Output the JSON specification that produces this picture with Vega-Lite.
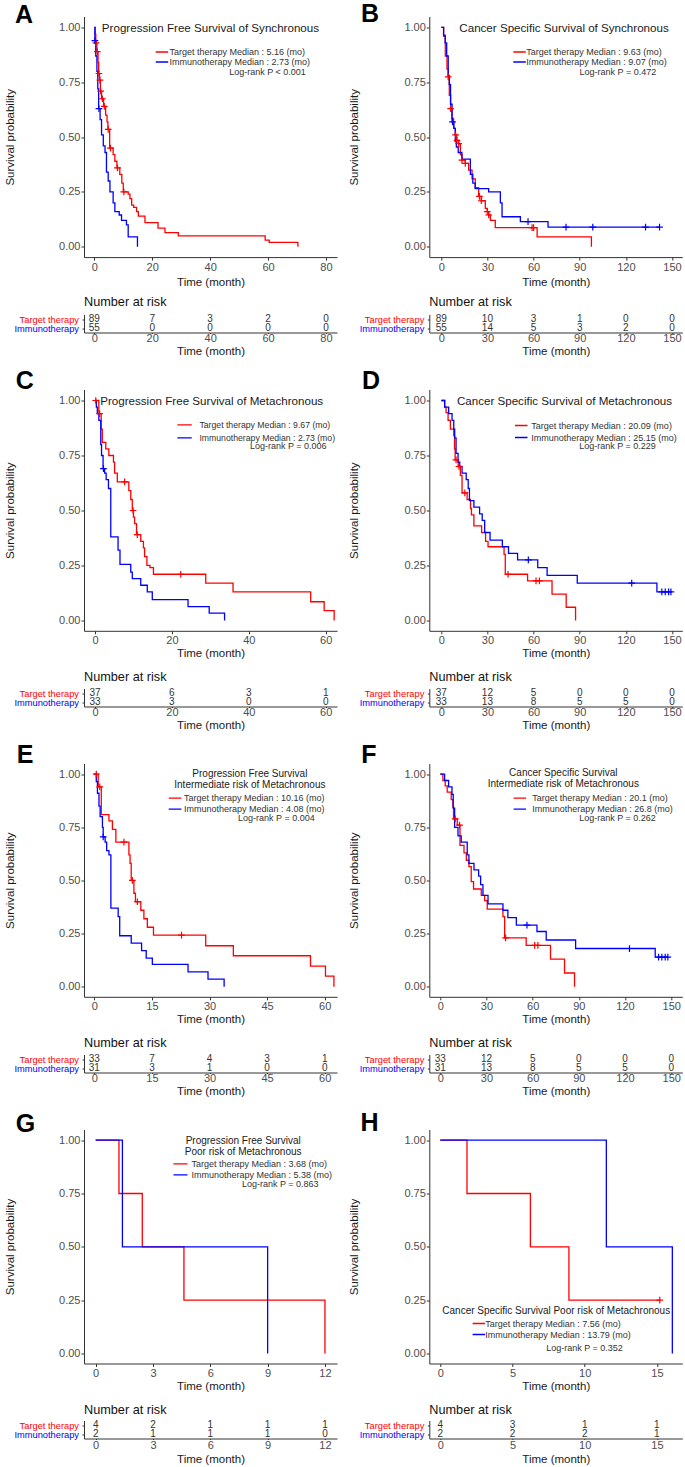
{
"$schema":"https://vega.github.io/schema/vega-lite/v6.json",
"padding":{"left":4,"top":1.5,"right":0,"bottom":0},
"config":{"font":"Liberation Sans","view":{"stroke":null},
"axis":{"grid":false,"domainColor":"#333333","domainWidth":1,"tickColor":"#333333","tickWidth":1,"tickSize":3,"labelColor":"#4D4D4D","labelFontSize":11,"labelFont":"Liberation Sans","titleFont":"Liberation Sans","titleFontSize":11.5,"titleFontWeight":"normal","titleColor":"#1a1a1a","labelPadding":1},
"legend":{"labelFont":"Liberation Sans","labelFontSize":9,"labelColor":"#333333","labelLimit":300,"orient":"none","padding":0,"symbolSize":25,"symbolStrokeWidth":1.3,"title":null,"rowPadding":0}},
"columns":2,"bounds":"flush","align":"each","spacing":{"row":57,"column":92.3},
"resolve":{"scale":{"color":"independent"},"legend":{"color":"independent"}},
"datasets":{
"km":[
{"panel":"A","group":"Target therapy","t":0,"s":1},{"panel":"A","group":"Target therapy","t":0.3,"s":0.97},{"panel":"A","group":"Target therapy","t":0.5,"s":0.93},{"panel":"A","group":"Target therapy","t":0.9,"s":0.89},{"panel":"A","group":"Target therapy","t":1.3,"s":0.84},{"panel":"A","group":"Target therapy","t":1.5,"s":0.79},{"panel":"A","group":"Target therapy","t":1.8,"s":0.76},{"panel":"A","group":"Target therapy","t":2.1,"s":0.71},{"panel":"A","group":"Target therapy","t":2.5,"s":0.675},{"panel":"A","group":"Target therapy","t":3.2,"s":0.64},{"panel":"A","group":"Target therapy","t":3.9,"s":0.6},{"panel":"A","group":"Target therapy","t":4.4,"s":0.57},{"panel":"A","group":"Target therapy","t":4.7,"s":0.535},{"panel":"A","group":"Target therapy","t":5.3,"s":0.45},{"panel":"A","group":"Target therapy","t":6.5,"s":0.42},{"panel":"A","group":"Target therapy","t":7.1,"s":0.39},{"panel":"A","group":"Target therapy","t":7.8,"s":0.36},{"panel":"A","group":"Target therapy","t":8.8,"s":0.33},{"panel":"A","group":"Target therapy","t":9.5,"s":0.29},{"panel":"A","group":"Target therapy","t":10.0,"s":0.25},{"panel":"A","group":"Target therapy","t":11.7,"s":0.24},{"panel":"A","group":"Target therapy","t":12.3,"s":0.22},{"panel":"A","group":"Target therapy","t":12.9,"s":0.19},{"panel":"A","group":"Target therapy","t":13.6,"s":0.18},{"panel":"A","group":"Target therapy","t":14.6,"s":0.16},{"panel":"A","group":"Target therapy","t":15.2,"s":0.14},{"panel":"A","group":"Target therapy","t":17.5,"s":0.11},{"panel":"A","group":"Target therapy","t":22.0,"s":0.085},{"panel":"A","group":"Target therapy","t":24.4,"s":0.065},{"panel":"A","group":"Target therapy","t":29.0,"s":0.05},{"panel":"A","group":"Target therapy","t":59.0,"s":0.03},{"panel":"A","group":"Target therapy","t":60.4,"s":0.02},{"panel":"A","group":"Target therapy","t":70.3,"s":0},
{"panel":"A","group":"Immunotherapy","t":0,"s":1},{"panel":"A","group":"Immunotherapy","t":0.2,"s":0.94},{"panel":"A","group":"Immunotherapy","t":0.5,"s":0.87},{"panel":"A","group":"Immunotherapy","t":0.9,"s":0.8},{"panel":"A","group":"Immunotherapy","t":1.2,"s":0.72},{"panel":"A","group":"Immunotherapy","t":1.5,"s":0.63},{"panel":"A","group":"Immunotherapy","t":2.0,"s":0.58},{"panel":"A","group":"Immunotherapy","t":2.5,"s":0.51},{"panel":"A","group":"Immunotherapy","t":3.1,"s":0.46},{"panel":"A","group":"Immunotherapy","t":3.7,"s":0.43},{"panel":"A","group":"Immunotherapy","t":4.2,"s":0.34},{"panel":"A","group":"Immunotherapy","t":4.8,"s":0.3},{"panel":"A","group":"Immunotherapy","t":5.4,"s":0.25},{"panel":"A","group":"Immunotherapy","t":6.5,"s":0.2},{"panel":"A","group":"Immunotherapy","t":7.1,"s":0.16},{"panel":"A","group":"Immunotherapy","t":8.6,"s":0.145},{"panel":"A","group":"Immunotherapy","t":9.4,"s":0.12},{"panel":"A","group":"Immunotherapy","t":11.1,"s":0.1},{"panel":"A","group":"Immunotherapy","t":11.7,"s":0.045},{"panel":"A","group":"Immunotherapy","t":14.9,"s":0},
{"panel":"B","group":"Target therapy","t":0,"s":1},{"panel":"B","group":"Target therapy","t":1.5,"s":0.96},{"panel":"B","group":"Target therapy","t":2.6,"s":0.87},{"panel":"B","group":"Target therapy","t":3.7,"s":0.81},{"panel":"B","group":"Target therapy","t":4.5,"s":0.775},{"panel":"B","group":"Target therapy","t":5.2,"s":0.69},{"panel":"B","group":"Target therapy","t":6.1,"s":0.63},{"panel":"B","group":"Target therapy","t":6.9,"s":0.585},{"panel":"B","group":"Target therapy","t":8.0,"s":0.54},{"panel":"B","group":"Target therapy","t":9.1,"s":0.51},{"panel":"B","group":"Target therapy","t":10.0,"s":0.485},{"panel":"B","group":"Target therapy","t":11.3,"s":0.47},{"panel":"B","group":"Target therapy","t":12.4,"s":0.42},{"panel":"B","group":"Target therapy","t":13.4,"s":0.395},{"panel":"B","group":"Target therapy","t":15.6,"s":0.38},{"panel":"B","group":"Target therapy","t":17.8,"s":0.35},{"panel":"B","group":"Target therapy","t":20,"s":0.31},{"panel":"B","group":"Target therapy","t":22.1,"s":0.27},{"panel":"B","group":"Target therapy","t":24.3,"s":0.23},{"panel":"B","group":"Target therapy","t":26,"s":0.21},{"panel":"B","group":"Target therapy","t":28.6,"s":0.175},{"panel":"B","group":"Target therapy","t":29.9,"s":0.16},{"panel":"B","group":"Target therapy","t":30.8,"s":0.145},{"panel":"B","group":"Target therapy","t":31.9,"s":0.12},{"panel":"B","group":"Target therapy","t":35.1,"s":0.087},{"panel":"B","group":"Target therapy","t":62.3,"s":0.045},{"panel":"B","group":"Target therapy","t":97.6,"s":0},
{"panel":"B","group":"Immunotherapy","t":0,"s":1},{"panel":"B","group":"Immunotherapy","t":1.5,"s":0.965},{"panel":"B","group":"Immunotherapy","t":2.5,"s":0.93},{"panel":"B","group":"Immunotherapy","t":3.5,"s":0.87},{"panel":"B","group":"Immunotherapy","t":4.5,"s":0.78},{"panel":"B","group":"Immunotherapy","t":5.2,"s":0.74},{"panel":"B","group":"Immunotherapy","t":6,"s":0.65},{"panel":"B","group":"Immunotherapy","t":7,"s":0.57},{"panel":"B","group":"Immunotherapy","t":8.2,"s":0.54},{"panel":"B","group":"Immunotherapy","t":9.1,"s":0.48},{"panel":"B","group":"Immunotherapy","t":9.8,"s":0.455},{"panel":"B","group":"Immunotherapy","t":11,"s":0.43},{"panel":"B","group":"Immunotherapy","t":13.4,"s":0.4},{"panel":"B","group":"Immunotherapy","t":18.9,"s":0.33},{"panel":"B","group":"Immunotherapy","t":20.5,"s":0.29},{"panel":"B","group":"Immunotherapy","t":22,"s":0.265},{"panel":"B","group":"Immunotherapy","t":30.8,"s":0.25},{"panel":"B","group":"Immunotherapy","t":38.4,"s":0.2},{"panel":"B","group":"Immunotherapy","t":39.5,"s":0.137},{"panel":"B","group":"Immunotherapy","t":51.4,"s":0.115},{"panel":"B","group":"Immunotherapy","t":69.4,"s":0.09},{"panel":"B","group":"Immunotherapy","t":141.9,"s":0.09},
{"panel":"C","group":"Target therapy","t":0,"s":1},{"panel":"C","group":"Target therapy","t":1.0,"s":0.94},{"panel":"C","group":"Target therapy","t":1.6,"s":0.87},{"panel":"C","group":"Target therapy","t":1.9,"s":0.81},{"panel":"C","group":"Target therapy","t":2.8,"s":0.78},{"panel":"C","group":"Target therapy","t":3.6,"s":0.75},{"panel":"C","group":"Target therapy","t":4.8,"s":0.72},{"panel":"C","group":"Target therapy","t":5.1,"s":0.67},{"panel":"C","group":"Target therapy","t":5.8,"s":0.63},{"panel":"C","group":"Target therapy","t":8.8,"s":0.59},{"panel":"C","group":"Target therapy","t":9.3,"s":0.55},{"panel":"C","group":"Target therapy","t":9.7,"s":0.5},{"panel":"C","group":"Target therapy","t":10.0,"s":0.47},{"panel":"C","group":"Target therapy","t":10.3,"s":0.44},{"panel":"C","group":"Target therapy","t":10.8,"s":0.39},{"panel":"C","group":"Target therapy","t":11.9,"s":0.36},{"panel":"C","group":"Target therapy","t":12.6,"s":0.33},{"panel":"C","group":"Target therapy","t":12.9,"s":0.29},{"panel":"C","group":"Target therapy","t":13.5,"s":0.25},{"panel":"C","group":"Target therapy","t":14.3,"s":0.24},{"panel":"C","group":"Target therapy","t":15.2,"s":0.21},{"panel":"C","group":"Target therapy","t":28.8,"s":0.17},{"panel":"C","group":"Target therapy","t":35.9,"s":0.13},{"panel":"C","group":"Target therapy","t":56.1,"s":0.085},{"panel":"C","group":"Target therapy","t":59.6,"s":0.045},{"panel":"C","group":"Target therapy","t":62.2,"s":0},
{"panel":"C","group":"Immunotherapy","t":0,"s":1},{"panel":"C","group":"Immunotherapy","t":0.35,"s":0.97},{"panel":"C","group":"Immunotherapy","t":0.6,"s":0.94},{"panel":"C","group":"Immunotherapy","t":1.0,"s":0.91},{"panel":"C","group":"Immunotherapy","t":1.5,"s":0.8},{"panel":"C","group":"Immunotherapy","t":1.7,"s":0.75},{"panel":"C","group":"Immunotherapy","t":2.1,"s":0.69},{"panel":"C","group":"Immunotherapy","t":2.5,"s":0.67},{"panel":"C","group":"Immunotherapy","t":2.9,"s":0.64},{"panel":"C","group":"Immunotherapy","t":3.5,"s":0.6},{"panel":"C","group":"Immunotherapy","t":4.1,"s":0.38},{"panel":"C","group":"Immunotherapy","t":6.0,"s":0.32},{"panel":"C","group":"Immunotherapy","t":6.5,"s":0.255},{"panel":"C","group":"Immunotherapy","t":9.3,"s":0.22},{"panel":"C","group":"Immunotherapy","t":9.7,"s":0.19},{"panel":"C","group":"Immunotherapy","t":11.9,"s":0.16},{"panel":"C","group":"Immunotherapy","t":13.6,"s":0.13},{"panel":"C","group":"Immunotherapy","t":14.9,"s":0.095},{"panel":"C","group":"Immunotherapy","t":24.2,"s":0.063},{"panel":"C","group":"Immunotherapy","t":29.7,"s":0.033},{"panel":"C","group":"Immunotherapy","t":33.7,"s":0},
{"panel":"D","group":"Target therapy","t":0,"s":1},{"panel":"D","group":"Target therapy","t":2.2,"s":0.97},{"panel":"D","group":"Target therapy","t":3.1,"s":0.945},{"panel":"D","group":"Target therapy","t":4.4,"s":0.91},{"panel":"D","group":"Target therapy","t":5.9,"s":0.87},{"panel":"D","group":"Target therapy","t":8.1,"s":0.84},{"panel":"D","group":"Target therapy","t":8.6,"s":0.78},{"panel":"D","group":"Target therapy","t":9.0,"s":0.73},{"panel":"D","group":"Target therapy","t":11.0,"s":0.7},{"panel":"D","group":"Target therapy","t":12.4,"s":0.66},{"panel":"D","group":"Target therapy","t":13.5,"s":0.58},{"panel":"D","group":"Target therapy","t":16.8,"s":0.55},{"panel":"D","group":"Target therapy","t":19,"s":0.51},{"panel":"D","group":"Target therapy","t":19.6,"s":0.48},{"panel":"D","group":"Target therapy","t":21.2,"s":0.43},{"panel":"D","group":"Target therapy","t":26.2,"s":0.4},{"panel":"D","group":"Target therapy","t":28.8,"s":0.36},{"panel":"D","group":"Target therapy","t":30.4,"s":0.335},{"panel":"D","group":"Target therapy","t":40.8,"s":0.3},{"panel":"D","group":"Target therapy","t":41.6,"s":0.21},{"panel":"D","group":"Target therapy","t":56.1,"s":0.18},{"panel":"D","group":"Target therapy","t":72,"s":0.12},{"panel":"D","group":"Target therapy","t":81.2,"s":0.06},{"panel":"D","group":"Target therapy","t":87.3,"s":0},
{"panel":"D","group":"Immunotherapy","t":0,"s":1},{"panel":"D","group":"Immunotherapy","t":2.2,"s":0.97},{"panel":"D","group":"Immunotherapy","t":4.8,"s":0.94},{"panel":"D","group":"Immunotherapy","t":7,"s":0.91},{"panel":"D","group":"Immunotherapy","t":8.1,"s":0.87},{"panel":"D","group":"Immunotherapy","t":8.7,"s":0.83},{"panel":"D","group":"Immunotherapy","t":9.6,"s":0.76},{"panel":"D","group":"Immunotherapy","t":10.9,"s":0.72},{"panel":"D","group":"Immunotherapy","t":12,"s":0.7},{"panel":"D","group":"Immunotherapy","t":13.5,"s":0.67},{"panel":"D","group":"Immunotherapy","t":16.2,"s":0.64},{"panel":"D","group":"Immunotherapy","t":17.5,"s":0.6},{"panel":"D","group":"Immunotherapy","t":18.3,"s":0.545},{"panel":"D","group":"Immunotherapy","t":21.2,"s":0.515},{"panel":"D","group":"Immunotherapy","t":24.9,"s":0.485},{"panel":"D","group":"Immunotherapy","t":26.6,"s":0.455},{"panel":"D","group":"Immunotherapy","t":28.2,"s":0.4},{"panel":"D","group":"Immunotherapy","t":31.7,"s":0.365},{"panel":"D","group":"Immunotherapy","t":39.7,"s":0.335},{"panel":"D","group":"Immunotherapy","t":43.7,"s":0.305},{"panel":"D","group":"Immunotherapy","t":49.6,"s":0.275},{"panel":"D","group":"Immunotherapy","t":62.7,"s":0.24},{"panel":"D","group":"Immunotherapy","t":68.8,"s":0.205},{"panel":"D","group":"Immunotherapy","t":88.4,"s":0.17},{"panel":"D","group":"Immunotherapy","t":140.2,"s":0.13},{"panel":"D","group":"Immunotherapy","t":149.3,"s":0.13},
{"panel":"E","group":"Target therapy","t":0,"s":1},{"panel":"E","group":"Target therapy","t":1.0,"s":0.94},{"panel":"E","group":"Target therapy","t":1.8,"s":0.81},{"panel":"E","group":"Target therapy","t":3.8,"s":0.78},{"panel":"E","group":"Target therapy","t":4.7,"s":0.74},{"panel":"E","group":"Target therapy","t":5.6,"s":0.68},{"panel":"E","group":"Target therapy","t":9.0,"s":0.62},{"panel":"E","group":"Target therapy","t":9.3,"s":0.58},{"panel":"E","group":"Target therapy","t":9.6,"s":0.5},{"panel":"E","group":"Target therapy","t":10.3,"s":0.44},{"panel":"E","group":"Target therapy","t":10.7,"s":0.4},{"panel":"E","group":"Target therapy","t":12.1,"s":0.36},{"panel":"E","group":"Target therapy","t":12.9,"s":0.32},{"panel":"E","group":"Target therapy","t":13.8,"s":0.28},{"panel":"E","group":"Target therapy","t":15.4,"s":0.243},{"panel":"E","group":"Target therapy","t":29,"s":0.193},{"panel":"E","group":"Target therapy","t":36.2,"s":0.146},{"panel":"E","group":"Target therapy","t":56.3,"s":0.097},{"panel":"E","group":"Target therapy","t":60.2,"s":0.05},{"panel":"E","group":"Target therapy","t":62.4,"s":0},
{"panel":"E","group":"Immunotherapy","t":0,"s":1},{"panel":"E","group":"Immunotherapy","t":0.5,"s":0.965},{"panel":"E","group":"Immunotherapy","t":0.8,"s":0.91},{"panel":"E","group":"Immunotherapy","t":1.2,"s":0.85},{"panel":"E","group":"Immunotherapy","t":1.5,"s":0.8},{"panel":"E","group":"Immunotherapy","t":2.1,"s":0.75},{"panel":"E","group":"Immunotherapy","t":2.3,"s":0.705},{"panel":"E","group":"Immunotherapy","t":2.8,"s":0.68},{"panel":"E","group":"Immunotherapy","t":3.2,"s":0.64},{"panel":"E","group":"Immunotherapy","t":3.8,"s":0.62},{"panel":"E","group":"Immunotherapy","t":4.3,"s":0.37},{"panel":"E","group":"Immunotherapy","t":6.2,"s":0.33},{"panel":"E","group":"Immunotherapy","t":6.6,"s":0.24},{"panel":"E","group":"Immunotherapy","t":9.6,"s":0.205},{"panel":"E","group":"Immunotherapy","t":12.3,"s":0.17},{"panel":"E","group":"Immunotherapy","t":13.5,"s":0.135},{"panel":"E","group":"Immunotherapy","t":15.1,"s":0.105},{"panel":"E","group":"Immunotherapy","t":24.4,"s":0.07},{"panel":"E","group":"Immunotherapy","t":29.6,"s":0.036},{"panel":"E","group":"Immunotherapy","t":33.8,"s":0},
{"panel":"F","group":"Target therapy","t":0,"s":1},{"panel":"F","group":"Target therapy","t":1.7,"s":0.97},{"panel":"F","group":"Target therapy","t":3.2,"s":0.945},{"panel":"F","group":"Target therapy","t":4.5,"s":0.915},{"panel":"F","group":"Target therapy","t":7.1,"s":0.88},{"panel":"F","group":"Target therapy","t":8.2,"s":0.845},{"panel":"F","group":"Target therapy","t":8.6,"s":0.79},{"panel":"F","group":"Target therapy","t":11,"s":0.76},{"panel":"F","group":"Target therapy","t":12.8,"s":0.665},{"panel":"F","group":"Target therapy","t":15.4,"s":0.63},{"panel":"F","group":"Target therapy","t":16.9,"s":0.595},{"panel":"F","group":"Target therapy","t":18.6,"s":0.565},{"panel":"F","group":"Target therapy","t":20.1,"s":0.495},{"panel":"F","group":"Target therapy","t":21.6,"s":0.46},{"panel":"F","group":"Target therapy","t":26.6,"s":0.43},{"panel":"F","group":"Target therapy","t":28.8,"s":0.405},{"panel":"F","group":"Target therapy","t":30.5,"s":0.365},{"panel":"F","group":"Target therapy","t":40.7,"s":0.33},{"panel":"F","group":"Target therapy","t":41.8,"s":0.23},{"panel":"F","group":"Target therapy","t":55.8,"s":0.195},{"panel":"F","group":"Target therapy","t":71.6,"s":0.13},{"panel":"F","group":"Target therapy","t":80.7,"s":0.065},{"panel":"F","group":"Target therapy","t":87.2,"s":0},
{"panel":"F","group":"Immunotherapy","t":0,"s":1},{"panel":"F","group":"Immunotherapy","t":2.8,"s":0.97},{"panel":"F","group":"Immunotherapy","t":5.4,"s":0.94},{"panel":"F","group":"Immunotherapy","t":7.6,"s":0.905},{"panel":"F","group":"Immunotherapy","t":8.4,"s":0.84},{"panel":"F","group":"Immunotherapy","t":9.3,"s":0.75},{"panel":"F","group":"Immunotherapy","t":11.5,"s":0.71},{"panel":"F","group":"Immunotherapy","t":13.6,"s":0.68},{"panel":"F","group":"Immunotherapy","t":17.5,"s":0.62},{"panel":"F","group":"Immunotherapy","t":18.6,"s":0.58},{"panel":"F","group":"Immunotherapy","t":21.9,"s":0.55},{"panel":"F","group":"Immunotherapy","t":24.9,"s":0.52},{"panel":"F","group":"Immunotherapy","t":26.2,"s":0.48},{"panel":"F","group":"Immunotherapy","t":27.7,"s":0.43},{"panel":"F","group":"Immunotherapy","t":31,"s":0.39},{"panel":"F","group":"Immunotherapy","t":40.7,"s":0.36},{"panel":"F","group":"Immunotherapy","t":43.9,"s":0.325},{"panel":"F","group":"Immunotherapy","t":49.4,"s":0.29},{"panel":"F","group":"Immunotherapy","t":62.8,"s":0.26},{"panel":"F","group":"Immunotherapy","t":68.8,"s":0.22},{"panel":"F","group":"Immunotherapy","t":87.9,"s":0.18},{"panel":"F","group":"Immunotherapy","t":139.6,"s":0.14},{"panel":"F","group":"Immunotherapy","t":147.8,"s":0.14},
{"panel":"G","group":"Target therapy","t":0,"s":1},{"panel":"G","group":"Target therapy","t":1.22,"s":0.75},{"panel":"G","group":"Target therapy","t":2.44,"s":0.5},{"panel":"G","group":"Target therapy","t":4.62,"s":0.25},{"panel":"G","group":"Target therapy","t":12.0,"s":0},
{"panel":"G","group":"Immunotherapy","t":0,"s":1},{"panel":"G","group":"Immunotherapy","t":1.4,"s":0.5},{"panel":"G","group":"Immunotherapy","t":9.0,"s":0},
{"panel":"H","group":"Target therapy","t":0,"s":1},{"panel":"H","group":"Target therapy","t":1.85,"s":0.75},{"panel":"H","group":"Target therapy","t":6.24,"s":0.5},{"panel":"H","group":"Target therapy","t":8.91,"s":0.25},{"panel":"H","group":"Target therapy","t":15.2,"s":0.25},
{"panel":"H","group":"Immunotherapy","t":0,"s":1},{"panel":"H","group":"Immunotherapy","t":11.5,"s":0.5},{"panel":"H","group":"Immunotherapy","t":16.07,"s":0}
],
"cens":[
{"panel":"A","group":"Target therapy","t":0.57,"s":0.93},{"panel":"A","group":"Target therapy","t":1.03,"s":0.89},{"panel":"A","group":"Target therapy","t":1.6,"s":0.79},{"panel":"A","group":"Target therapy","t":1.95,"s":0.76},{"panel":"A","group":"Target therapy","t":2.2,"s":0.71},{"panel":"A","group":"Target therapy","t":2.8,"s":0.675},{"panel":"A","group":"Target therapy","t":3.45,"s":0.64},{"panel":"A","group":"Target therapy","t":4.8,"s":0.535},{"panel":"A","group":"Target therapy","t":5.6,"s":0.45},{"panel":"A","group":"Target therapy","t":8.0,"s":0.36},{"panel":"A","group":"Target therapy","t":10.2,"s":0.25},
{"panel":"A","group":"Immunotherapy","t":0.2,"s":0.94},{"panel":"A","group":"Immunotherapy","t":1.6,"s":0.63},
{"panel":"B","group":"Target therapy","t":4.5,"s":0.775},{"panel":"B","group":"Target therapy","t":6.1,"s":0.63},{"panel":"B","group":"Target therapy","t":9.3,"s":0.51},{"panel":"B","group":"Target therapy","t":10.2,"s":0.485},{"panel":"B","group":"Target therapy","t":11.3,"s":0.47},{"panel":"B","group":"Target therapy","t":13.4,"s":0.395},{"panel":"B","group":"Target therapy","t":15.6,"s":0.38},{"panel":"B","group":"Target therapy","t":24.8,"s":0.23},{"panel":"B","group":"Target therapy","t":26,"s":0.21},{"panel":"B","group":"Target therapy","t":29.9,"s":0.16},{"panel":"B","group":"Target therapy","t":30.8,"s":0.145},{"panel":"B","group":"Target therapy","t":59,"s":0.087},{"panel":"B","group":"Target therapy","t":60,"s":0.087},
{"panel":"B","group":"Immunotherapy","t":7.3,"s":0.57},{"panel":"B","group":"Immunotherapy","t":56.4,"s":0.115},{"panel":"B","group":"Immunotherapy","t":81.1,"s":0.09},{"panel":"B","group":"Immunotherapy","t":98.5,"s":0.09},{"panel":"B","group":"Immunotherapy","t":132.8,"s":0.09},{"panel":"B","group":"Immunotherapy","t":141.9,"s":0.09},
{"panel":"C","group":"Target therapy","t":0.2,"s":1},{"panel":"C","group":"Target therapy","t":1.2,"s":0.94},{"panel":"C","group":"Target therapy","t":7.7,"s":0.63},{"panel":"C","group":"Target therapy","t":9.9,"s":0.5},{"panel":"C","group":"Target therapy","t":11.0,"s":0.39},{"panel":"C","group":"Target therapy","t":22.3,"s":0.21},
{"panel":"C","group":"Immunotherapy","t":2.2,"s":0.69},
{"panel":"D","group":"Target therapy","t":9.6,"s":0.73},{"panel":"D","group":"Target therapy","t":11.5,"s":0.7},{"panel":"D","group":"Target therapy","t":15.3,"s":0.58},{"panel":"D","group":"Target therapy","t":43.4,"s":0.21},{"panel":"D","group":"Target therapy","t":61.6,"s":0.18},{"panel":"D","group":"Target therapy","t":63.8,"s":0.18},
{"panel":"D","group":"Immunotherapy","t":56.6,"s":0.275},{"panel":"D","group":"Immunotherapy","t":123.8,"s":0.17},{"panel":"D","group":"Immunotherapy","t":143.4,"s":0.13},{"panel":"D","group":"Immunotherapy","t":145.6,"s":0.13},{"panel":"D","group":"Immunotherapy","t":147.8,"s":0.13},{"panel":"D","group":"Immunotherapy","t":149.3,"s":0.13},
{"panel":"E","group":"Target therapy","t":0.5,"s":1},{"panel":"E","group":"Target therapy","t":1.4,"s":0.94},{"panel":"E","group":"Target therapy","t":7.7,"s":0.68},{"panel":"E","group":"Target therapy","t":9.9,"s":0.5},{"panel":"E","group":"Target therapy","t":11.2,"s":0.4},{"panel":"E","group":"Target therapy","t":22.7,"s":0.243},
{"panel":"E","group":"Immunotherapy","t":2.3,"s":0.705},
{"panel":"F","group":"Target therapy","t":9.7,"s":0.79},{"panel":"F","group":"Target therapy","t":12.5,"s":0.76},{"panel":"F","group":"Target therapy","t":42.4,"s":0.23},{"panel":"F","group":"Target therapy","t":61.3,"s":0.195},{"panel":"F","group":"Target therapy","t":63.4,"s":0.195},
{"panel":"F","group":"Immunotherapy","t":56.3,"s":0.29},{"panel":"F","group":"Immunotherapy","t":122.9,"s":0.18},{"panel":"F","group":"Immunotherapy","t":141.8,"s":0.14},{"panel":"F","group":"Immunotherapy","t":143.9,"s":0.14},{"panel":"F","group":"Immunotherapy","t":146.1,"s":0.14},{"panel":"F","group":"Immunotherapy","t":147.8,"s":0.14},
{"panel":"H","group":"Target therapy","t":15.2,"s":0.25}
],
"risk":[
{"panel":"A","group":"Target therapy","t":0,"n":89},{"panel":"A","group":"Target therapy","t":20,"n":7},{"panel":"A","group":"Target therapy","t":40,"n":3},{"panel":"A","group":"Target therapy","t":60,"n":2},{"panel":"A","group":"Target therapy","t":80,"n":0},
{"panel":"A","group":"Immunotherapy","t":0,"n":55},{"panel":"A","group":"Immunotherapy","t":20,"n":0},{"panel":"A","group":"Immunotherapy","t":40,"n":0},{"panel":"A","group":"Immunotherapy","t":60,"n":0},{"panel":"A","group":"Immunotherapy","t":80,"n":0},
{"panel":"B","group":"Target therapy","t":0,"n":89},{"panel":"B","group":"Target therapy","t":30,"n":10},{"panel":"B","group":"Target therapy","t":60,"n":3},{"panel":"B","group":"Target therapy","t":90,"n":1},{"panel":"B","group":"Target therapy","t":120,"n":0},{"panel":"B","group":"Target therapy","t":150,"n":0},
{"panel":"B","group":"Immunotherapy","t":0,"n":55},{"panel":"B","group":"Immunotherapy","t":30,"n":14},{"panel":"B","group":"Immunotherapy","t":60,"n":5},{"panel":"B","group":"Immunotherapy","t":90,"n":3},{"panel":"B","group":"Immunotherapy","t":120,"n":2},{"panel":"B","group":"Immunotherapy","t":150,"n":0},
{"panel":"C","group":"Target therapy","t":0,"n":37},{"panel":"C","group":"Target therapy","t":20,"n":6},{"panel":"C","group":"Target therapy","t":40,"n":3},{"panel":"C","group":"Target therapy","t":60,"n":1},
{"panel":"C","group":"Immunotherapy","t":0,"n":33},{"panel":"C","group":"Immunotherapy","t":20,"n":3},{"panel":"C","group":"Immunotherapy","t":40,"n":0},{"panel":"C","group":"Immunotherapy","t":60,"n":0},
{"panel":"D","group":"Target therapy","t":0,"n":37},{"panel":"D","group":"Target therapy","t":30,"n":12},{"panel":"D","group":"Target therapy","t":60,"n":5},{"panel":"D","group":"Target therapy","t":90,"n":0},{"panel":"D","group":"Target therapy","t":120,"n":0},{"panel":"D","group":"Target therapy","t":150,"n":0},
{"panel":"D","group":"Immunotherapy","t":0,"n":33},{"panel":"D","group":"Immunotherapy","t":30,"n":13},{"panel":"D","group":"Immunotherapy","t":60,"n":8},{"panel":"D","group":"Immunotherapy","t":90,"n":5},{"panel":"D","group":"Immunotherapy","t":120,"n":5},{"panel":"D","group":"Immunotherapy","t":150,"n":0},
{"panel":"E","group":"Target therapy","t":0,"n":33},{"panel":"E","group":"Target therapy","t":15,"n":7},{"panel":"E","group":"Target therapy","t":30,"n":4},{"panel":"E","group":"Target therapy","t":45,"n":3},{"panel":"E","group":"Target therapy","t":60,"n":1},
{"panel":"E","group":"Immunotherapy","t":0,"n":31},{"panel":"E","group":"Immunotherapy","t":15,"n":3},{"panel":"E","group":"Immunotherapy","t":30,"n":1},{"panel":"E","group":"Immunotherapy","t":45,"n":0},{"panel":"E","group":"Immunotherapy","t":60,"n":0},
{"panel":"F","group":"Target therapy","t":0,"n":33},{"panel":"F","group":"Target therapy","t":30,"n":12},{"panel":"F","group":"Target therapy","t":60,"n":5},{"panel":"F","group":"Target therapy","t":90,"n":0},{"panel":"F","group":"Target therapy","t":120,"n":0},{"panel":"F","group":"Target therapy","t":150,"n":0},
{"panel":"F","group":"Immunotherapy","t":0,"n":31},{"panel":"F","group":"Immunotherapy","t":30,"n":13},{"panel":"F","group":"Immunotherapy","t":60,"n":8},{"panel":"F","group":"Immunotherapy","t":90,"n":5},{"panel":"F","group":"Immunotherapy","t":120,"n":5},{"panel":"F","group":"Immunotherapy","t":150,"n":0},
{"panel":"G","group":"Target therapy","t":0,"n":4},{"panel":"G","group":"Target therapy","t":3,"n":2},{"panel":"G","group":"Target therapy","t":6,"n":1},{"panel":"G","group":"Target therapy","t":9,"n":1},{"panel":"G","group":"Target therapy","t":12,"n":1},
{"panel":"G","group":"Immunotherapy","t":0,"n":2},{"panel":"G","group":"Immunotherapy","t":3,"n":1},{"panel":"G","group":"Immunotherapy","t":6,"n":1},{"panel":"G","group":"Immunotherapy","t":9,"n":1},{"panel":"G","group":"Immunotherapy","t":12,"n":0},
{"panel":"H","group":"Target therapy","t":0,"n":4},{"panel":"H","group":"Target therapy","t":5,"n":3},{"panel":"H","group":"Target therapy","t":10,"n":1},{"panel":"H","group":"Target therapy","t":15,"n":1},
{"panel":"H","group":"Immunotherapy","t":0,"n":2},{"panel":"H","group":"Immunotherapy","t":5,"n":2},{"panel":"H","group":"Immunotherapy","t":10,"n":2},{"panel":"H","group":"Immunotherapy","t":15,"n":1}
]},
"concat":[
{"width":253,"height":240.6,
"title":{"text":"A","anchor":"start","frame":"group","orient":"top","offset":0,"dx":-69,"dy":31,"baseline":"alphabetic","fontSize":25,"fontWeight":"bold","color":"#000000","font":"Liberation Sans"},
"layer":[
{"data":{"name":"km"},"transform":[{"filter":"datum.panel == 'A'"}],"mark":{"type":"line","interpolate":"step-after","strokeWidth":1.3},
"encoding":{"x":{"field":"t","type":"quantitative","scale":{"domain":[-3.56,83.8],"nice":false,"zero":false},"axis":{"values":[0,20,40,60,80],"title":"Time (month)","titlePadding":4.5}},
"y":{"field":"s","type":"quantitative","scale":{"domain":[-0.047,1.05],"nice":false,"zero":false},"axis":{"values":[0,0.25,0.5,0.75,1],"format":".2f","title":"Survival probability","titlePadding":42.8}},
"color":{"field":"group","type":"nominal","scale":{"domain":["Target therapy","Immunotherapy"],"range":["#FF0000","#0000FF"]},"legend":{"legendX":71.7,"legendY":30.5,"clipHeight":10,"labelOffset":4.7,"symbolType":"M-3.2,0H3.2","labelExpr":"datum.label == 'Target therapy' ? 'Target therapy  Median : 5.16 (mo)' : 'Immunotherapy Median : 2.73 (mo)'"}}}},
{"data":{"name":"cens"},"transform":[{"filter":"datum.panel == 'A'"}],"mark":{"type":"point","shape":"M-1,0H1M0,-1V1","size":45,"filled":false,"strokeWidth":1.2,"opacity":1},"encoding":{"x":{"field":"t","type":"quantitative"},"y":{"field":"s","type":"quantitative"},"color":{"field":"group","type":"nominal"}}},
{"data":{"values":[{}]},"mark":{"type":"text","fontSize":11.6,"color":"#1a1a1a","align":"center","baseline":"middle"},"encoding":{"x":{"datum":40.1},"y":{"datum":0.992},"text":{"value":"Progression Free Survival of Synchronous"}}},
{"data":{"values":[{}]},"mark":{"type":"text","fontSize":9,"color":"#333333","align":"center","baseline":"middle"},"encoding":{"x":{"datum":59.8},"y":{"datum":0.799},"text":{"value":"Log-rank P  < 0.001"}}}
]},
{"width":253,"height":240.6,
"title":{"text":"B","anchor":"start","frame":"group","orient":"top","offset":0,"dx":-68.3,"dy":30,"baseline":"alphabetic","fontSize":25,"fontWeight":"bold","color":"#000000","font":"Liberation Sans"},
"layer":[
{"data":{"name":"km"},"transform":[{"filter":"datum.panel == 'B'"}],"mark":{"type":"line","interpolate":"step-after","strokeWidth":1.3},
"encoding":{"x":{"field":"t","type":"quantitative","scale":{"domain":[-7.8,156.7],"nice":false,"zero":false},"axis":{"values":[0,30,60,90,120,150],"title":"Time (month)","titlePadding":4.5}},
"y":{"field":"s","type":"quantitative","scale":{"domain":[-0.047,1.05],"nice":false,"zero":false},"axis":{"values":[0,0.25,0.5,0.75,1],"format":".2f","title":"Survival probability","titlePadding":44.3}},
"color":{"field":"group","type":"nominal","scale":{"domain":["Target therapy","Immunotherapy"],"range":["#FF0000","#0000FF"]},"legend":{"legendX":84,"legendY":30.5,"clipHeight":10,"labelOffset":4,"symbolType":"M-3.2,0H3.2","labelExpr":"datum.label == 'Target therapy' ? 'Target therapy  Median : 9.63 (mo)' : 'Immunotherapy Median : 9.07 (mo)'"}}}},
{"data":{"name":"cens"},"transform":[{"filter":"datum.panel == 'B'"}],"mark":{"type":"point","shape":"M-1,0H1M0,-1V1","size":45,"filled":false,"strokeWidth":1.2,"opacity":1},"encoding":{"x":{"field":"t","type":"quantitative"},"y":{"field":"s","type":"quantitative"},"color":{"field":"group","type":"nominal"}}},
{"data":{"values":[{}]},"mark":{"type":"text","fontSize":11.6,"color":"#1a1a1a","align":"center","baseline":"middle"},"encoding":{"x":{"datum":79.8},"y":{"datum":0.992},"text":{"value":"Cancer Specific Survival of Synchronous"}}},
{"data":{"values":[{}]},"mark":{"type":"text","fontSize":9,"color":"#333333","align":"center","baseline":"middle"},"encoding":{"x":{"datum":114.8},"y":{"datum":0.798},"text":{"value":"Log-rank P  = 0.472"}}}
]},
{"width":253,"height":18,"data":{"name":"risk"},"transform":[{"filter":"datum.panel == 'A'"}],
"title":{"text":"Number at risk","anchor":"start","frame":"group","offset":0,"dy":0.5,"baseline":"middle","fontSize":12.7,"fontWeight":"normal","color":"#111111","font":"Liberation Sans"},
"mark":{"type":"text","fontSize":10,"color":"#333333","baseline":"middle"},
"encoding":{"x":{"field":"t","type":"quantitative","scale":{"domain":[-3.56,83.8],"nice":false,"zero":false},"axis":{"values":[0,20,40,60,80],"title":"Time (month)","titlePadding":2,"tickSize":1,"labelPadding":-1}},
"y":{"field":"group","type":"nominal","scale":{"domain":["Target therapy","Immunotherapy"]},"axis":{"title":null,"labelFontSize":9.3,"tickSize":2,"labelPadding":3.5,"labelColor":{"condition":{"test":"datum.value == 'Target therapy'","value":"#FF0000"},"value":"#0000FF"}}},
"text":{"field":"n","type":"quantitative"}}},
{"width":253,"height":18,"data":{"name":"risk"},"transform":[{"filter":"datum.panel == 'B'"}],
"title":{"text":"Number at risk","anchor":"start","frame":"group","offset":0,"dy":0.5,"baseline":"middle","fontSize":12.7,"fontWeight":"normal","color":"#111111","font":"Liberation Sans"},
"mark":{"type":"text","fontSize":10,"color":"#333333","baseline":"middle"},
"encoding":{"x":{"field":"t","type":"quantitative","scale":{"domain":[-7.8,156.7],"nice":false,"zero":false},"axis":{"values":[0,30,60,90,120,150],"title":"Time (month)","titlePadding":2,"tickSize":1,"labelPadding":-1}},
"y":{"field":"group","type":"nominal","scale":{"domain":["Target therapy","Immunotherapy"]},"axis":{"title":null,"labelFontSize":9.3,"tickSize":2,"labelPadding":3.5,"labelColor":{"condition":{"test":"datum.value == 'Target therapy'","value":"#FF0000"},"value":"#0000FF"}}},
"text":{"field":"n","type":"quantitative"}}},
{"width":253,"height":241.3,
"title":{"text":"C","anchor":"start","frame":"group","orient":"top","offset":0,"dx":-68.3,"dy":24.5,"baseline":"alphabetic","fontSize":25,"fontWeight":"bold","color":"#000000","font":"Liberation Sans"},
"layer":[
{"data":{"name":"km"},"transform":[{"filter":"datum.panel == 'C'"}],"mark":{"type":"line","interpolate":"step-after","strokeWidth":1.3},
"encoding":{"x":{"field":"t","type":"quantitative","scale":{"domain":[-2.86,62.94],"nice":false,"zero":false},"axis":{"values":[0,20,40,60],"title":"Time (month)","titlePadding":2}},
"y":{"field":"s","type":"quantitative","scale":{"domain":[-0.047,1.05],"nice":false,"zero":false},"axis":{"values":[0,0.25,0.5,0.75,1],"format":".2f","title":"Survival probability","titlePadding":42.8}},
"color":{"field":"group","type":"nominal","scale":{"domain":["Target therapy","Immunotherapy"],"range":["#FF0000","#0000FF"]},"legend":{"legendX":93.4,"legendY":28.95,"clipHeight":12.7,"labelOffset":13.3,"labelFontSize":8.7,"symbolType":"M-4,0H4","labelExpr":"datum.label == 'Target therapy' ? 'Target therapy  Median : 9.67 (mo)' : 'Immunotherapy Median : 2.73 (mo)'"}}}},
{"data":{"name":"cens"},"transform":[{"filter":"datum.panel == 'C'"}],"mark":{"type":"point","shape":"M-1,0H1M0,-1V1","size":45,"filled":false,"strokeWidth":1.2,"opacity":1},"encoding":{"x":{"field":"t","type":"quantitative"},"y":{"field":"s","type":"quantitative"},"color":{"field":"group","type":"nominal"}}},
{"data":{"values":[{}]},"mark":{"type":"text","fontSize":11.6,"color":"#1a1a1a","align":"center","baseline":"middle"},"encoding":{"x":{"datum":30.35},"y":{"datum":0.995},"text":{"value":"Progression Free Survival of Metachronous"}}},
{"data":{"values":[{}]},"mark":{"type":"text","fontSize":9,"color":"#333333","align":"center","baseline":"middle"},"encoding":{"x":{"datum":50.25},"y":{"datum":0.795},"text":{"value":"Log-rank P  =  0.006"}}}
]},
{"width":253,"height":241.3,
"title":{"text":"D","anchor":"start","frame":"group","orient":"top","offset":0,"dx":-67.3,"dy":24,"baseline":"alphabetic","fontSize":25,"fontWeight":"bold","color":"#000000","font":"Liberation Sans"},
"layer":[
{"data":{"name":"km"},"transform":[{"filter":"datum.panel == 'D'"}],"mark":{"type":"line","interpolate":"step-after","strokeWidth":1.3},
"encoding":{"x":{"field":"t","type":"quantitative","scale":{"domain":[-7.8,156.7],"nice":false,"zero":false},"axis":{"values":[0,30,60,90,120,150],"title":"Time (month)","titlePadding":2}},
"y":{"field":"s","type":"quantitative","scale":{"domain":[-0.047,1.05],"nice":false,"zero":false},"axis":{"values":[0,0.25,0.5,0.75,1],"format":".2f","title":"Survival probability","titlePadding":44.3}},
"color":{"field":"group","type":"nominal","scale":{"domain":["Target therapy","Immunotherapy"],"range":["#FF0000","#0000FF"]},"legend":{"legendX":85.7,"legendY":30,"clipHeight":12,"labelOffset":7.3,"symbolType":"M-3.2,0H3.2","labelExpr":"datum.label == 'Target therapy' ? 'Target therapy  Median : 20.09 (mo)' : 'Immunotherapy Median : 25.15 (mo)'"}}}},
{"data":{"name":"cens"},"transform":[{"filter":"datum.panel == 'D'"}],"mark":{"type":"point","shape":"M-1,0H1M0,-1V1","size":45,"filled":false,"strokeWidth":1.2,"opacity":1},"encoding":{"x":{"field":"t","type":"quantitative"},"y":{"field":"s","type":"quantitative"},"color":{"field":"group","type":"nominal"}}},
{"data":{"values":[{}]},"mark":{"type":"text","fontSize":11.6,"color":"#1a1a1a","align":"center","baseline":"middle"},"encoding":{"x":{"datum":80.1},"y":{"datum":0.995},"text":{"value":"Cancer Specific Survival of Metachronous"}}},
{"data":{"values":[{}]},"mark":{"type":"text","fontSize":9,"color":"#333333","align":"center","baseline":"middle"},"encoding":{"x":{"datum":114.6},"y":{"datum":0.795},"text":{"value":"Log-rank P  =  0.229"}}}
]},
{"width":253,"height":18,"data":{"name":"risk"},"transform":[{"filter":"datum.panel == 'C'"}],
"title":{"text":"Number at risk","anchor":"start","frame":"group","offset":0,"dy":1.2,"baseline":"middle","fontSize":12.7,"fontWeight":"normal","color":"#111111","font":"Liberation Sans"},
"mark":{"type":"text","fontSize":10,"color":"#333333","baseline":"middle"},
"encoding":{"x":{"field":"t","type":"quantitative","scale":{"domain":[-2.86,62.94],"nice":false,"zero":false},"axis":{"values":[0,20,40,60],"title":"Time (month)","titlePadding":2,"tickSize":1,"labelPadding":-1}},
"y":{"field":"group","type":"nominal","scale":{"domain":["Target therapy","Immunotherapy"]},"axis":{"title":null,"labelFontSize":9.3,"tickSize":2,"labelPadding":3.5,"labelColor":{"condition":{"test":"datum.value == 'Target therapy'","value":"#FF0000"},"value":"#0000FF"}}},
"text":{"field":"n","type":"quantitative"}}},
{"width":253,"height":18,"data":{"name":"risk"},"transform":[{"filter":"datum.panel == 'D'"}],
"title":{"text":"Number at risk","anchor":"start","frame":"group","offset":0,"dy":1.2,"baseline":"middle","fontSize":12.7,"fontWeight":"normal","color":"#111111","font":"Liberation Sans"},
"mark":{"type":"text","fontSize":10,"color":"#333333","baseline":"middle"},
"encoding":{"x":{"field":"t","type":"quantitative","scale":{"domain":[-7.8,156.7],"nice":false,"zero":false},"axis":{"values":[0,30,60,90,120,150],"title":"Time (month)","titlePadding":2,"tickSize":1,"labelPadding":-1}},
"y":{"field":"group","type":"nominal","scale":{"domain":["Target therapy","Immunotherapy"]},"axis":{"title":null,"labelFontSize":9.3,"tickSize":2,"labelPadding":3.5,"labelColor":{"condition":{"test":"datum.value == 'Target therapy'","value":"#FF0000"},"value":"#0000FF"}}},
"text":{"field":"n","type":"quantitative"}}},
{"width":253,"height":233.3,
"title":{"text":"E","anchor":"start","frame":"group","orient":"top","offset":0,"dx":-67.3,"dy":24.3,"baseline":"alphabetic","fontSize":25,"fontWeight":"bold","color":"#000000","font":"Liberation Sans"},
"layer":[
{"data":{"name":"km"},"transform":[{"filter":"datum.panel == 'E'"}],"mark":{"type":"line","interpolate":"step-after","strokeWidth":1.3},
"encoding":{"x":{"field":"t","type":"quantitative","scale":{"domain":[-2.7,63.2],"nice":false,"zero":false},"axis":{"values":[0,15,30,45,60],"title":"Time (month)","titlePadding":2}},
"y":{"field":"s","type":"quantitative","scale":{"domain":[-0.047,1.05],"nice":false,"zero":false},"axis":{"values":[0,0.25,0.5,0.75,1],"format":".2f","title":"Survival probability","titlePadding":42.8}},
"color":{"field":"group","type":"nominal","scale":{"domain":["Target therapy","Immunotherapy"],"range":["#FF0000","#0000FF"]},"legend":{"legendX":84.7,"legendY":29.35,"clipHeight":10.7,"labelOffset":6.3,"symbolType":"M-3.3,0H3.3","labelExpr":"datum.label == 'Target therapy' ? 'Target therapy  Median : 10.16 (mo)' : 'Immunotherapy Median : 4.08 (mo)'"}}}},
{"data":{"name":"cens"},"transform":[{"filter":"datum.panel == 'E'"}],"mark":{"type":"point","shape":"M-1,0H1M0,-1V1","size":45,"filled":false,"strokeWidth":1.2,"opacity":1},"encoding":{"x":{"field":"t","type":"quantitative"},"y":{"field":"s","type":"quantitative"},"color":{"field":"group","type":"nominal"}}},
{"data":{"values":[{}]},"mark":{"type":"text","fontSize":10,"lineHeight":11,"color":"#1a1a1a","align":"center","baseline":"middle"},"encoding":{"x":{"datum":40.5},"y":{"datum":1.0},"text":{"value":["Progression Free Survival","Intermediate risk of Metachronous"]}}},
{"data":{"values":[{}]},"mark":{"type":"text","fontSize":9,"color":"#333333","align":"center","baseline":"middle"},"encoding":{"x":{"datum":47.4},"y":{"datum":0.796},"text":{"value":"Log-rank P  = 0.004"}}}
]},
{"width":253,"height":233.3,
"title":{"text":"F","anchor":"start","frame":"group","orient":"top","offset":0,"dx":-68,"dy":24,"baseline":"alphabetic","fontSize":25,"fontWeight":"bold","color":"#000000","font":"Liberation Sans"},
"layer":[
{"data":{"name":"km"},"transform":[{"filter":"datum.panel == 'F'"}],"mark":{"type":"line","interpolate":"step-after","strokeWidth":1.3},
"encoding":{"x":{"field":"t","type":"quantitative","scale":{"domain":[-7.14,157.2],"nice":false,"zero":false},"axis":{"values":[0,30,60,90,120,150],"title":"Time (month)","titlePadding":2}},
"y":{"field":"s","type":"quantitative","scale":{"domain":[-0.047,1.05],"nice":false,"zero":false},"axis":{"values":[0,0.25,0.5,0.75,1],"format":".2f","title":"Survival probability","titlePadding":44.3}},
"color":{"field":"group","type":"nominal","scale":{"domain":["Target therapy","Immunotherapy"],"range":["#FF0000","#0000FF"]},"legend":{"legendX":84.3,"legendY":29.35,"clipHeight":10.7,"labelOffset":9.7,"symbolType":"M-3.2,0H3.2","labelExpr":"datum.label == 'Target therapy' ? 'Target therapy  Median : 20.1 (mo)' : 'Immunotherapy Median :  26.8 (mo)'"}}}},
{"data":{"name":"cens"},"transform":[{"filter":"datum.panel == 'F'"}],"mark":{"type":"point","shape":"M-1,0H1M0,-1V1","size":45,"filled":false,"strokeWidth":1.2,"opacity":1},"encoding":{"x":{"field":"t","type":"quantitative"},"y":{"field":"s","type":"quantitative"},"color":{"field":"group","type":"nominal"}}},
{"data":{"values":[{}]},"mark":{"type":"text","fontSize":10,"lineHeight":11,"color":"#1a1a1a","align":"center","baseline":"middle"},"encoding":{"x":{"datum":79.9},"y":{"datum":1.003},"text":{"value":["Cancer Specific Survival","Intermediate risk of Metachronous"]}}},
{"data":{"values":[{}]},"mark":{"type":"text","fontSize":9,"color":"#333333","align":"center","baseline":"middle"},"encoding":{"x":{"datum":115.1},"y":{"datum":0.796},"text":{"value":"Log-rank P  =  0.262"}}}
]},
{"width":253,"height":18,"data":{"name":"risk"},"transform":[{"filter":"datum.panel == 'E'"}],
"title":{"text":"Number at risk","anchor":"start","frame":"group","offset":0,"dy":1.2,"baseline":"middle","fontSize":12.7,"fontWeight":"normal","color":"#111111","font":"Liberation Sans"},
"mark":{"type":"text","fontSize":10,"color":"#333333","baseline":"middle"},
"encoding":{"x":{"field":"t","type":"quantitative","scale":{"domain":[-2.7,63.2],"nice":false,"zero":false},"axis":{"values":[0,15,30,45,60],"title":"Time (month)","titlePadding":2,"tickSize":1,"labelPadding":-1}},
"y":{"field":"group","type":"nominal","scale":{"domain":["Target therapy","Immunotherapy"]},"axis":{"title":null,"labelFontSize":9.3,"tickSize":2,"labelPadding":3.5,"labelColor":{"condition":{"test":"datum.value == 'Target therapy'","value":"#FF0000"},"value":"#0000FF"}}},
"text":{"field":"n","type":"quantitative"}}},
{"width":253,"height":18,"data":{"name":"risk"},"transform":[{"filter":"datum.panel == 'F'"}],
"title":{"text":"Number at risk","anchor":"start","frame":"group","offset":0,"dy":1.2,"baseline":"middle","fontSize":12.7,"fontWeight":"normal","color":"#111111","font":"Liberation Sans"},
"mark":{"type":"text","fontSize":10,"color":"#333333","baseline":"middle"},
"encoding":{"x":{"field":"t","type":"quantitative","scale":{"domain":[-7.14,157.2],"nice":false,"zero":false},"axis":{"values":[0,30,60,90,120,150],"title":"Time (month)","titlePadding":2,"tickSize":1,"labelPadding":-1}},
"y":{"field":"group","type":"nominal","scale":{"domain":["Target therapy","Immunotherapy"]},"axis":{"title":null,"labelFontSize":9.3,"tickSize":2,"labelPadding":3.5,"labelColor":{"condition":{"test":"datum.value == 'Target therapy'","value":"#FF0000"},"value":"#0000FF"}}},
"text":{"field":"n","type":"quantitative"}}},
{"width":253,"height":234,
"title":{"text":"G","anchor":"start","frame":"group","orient":"top","offset":0,"dx":-68.3,"dy":27.4,"baseline":"alphabetic","fontSize":25,"fontWeight":"bold","color":"#000000","font":"Liberation Sans"},
"layer":[
{"data":{"name":"km"},"transform":[{"filter":"datum.panel == 'G'"}],"mark":{"type":"line","interpolate":"step-after","strokeWidth":1.3},
"encoding":{"x":{"field":"t","type":"quantitative","scale":{"domain":[-0.61,12.63],"nice":false,"zero":false},"axis":{"values":[0,3,6,9,12],"title":"Time (month)","titlePadding":2}},
"y":{"field":"s","type":"quantitative","scale":{"domain":[-0.047,1.05],"nice":false,"zero":false},"axis":{"values":[0,0.25,0.5,0.75,1],"format":".2f","title":"Survival probability","titlePadding":42.8}},
"color":{"field":"group","type":"nominal","scale":{"domain":["Target therapy","Immunotherapy"],"range":["#FF0000","#0000FF"]},"legend":{"legendX":89.5,"legendY":29.05,"clipHeight":10.7,"labelOffset":8.9,"symbolType":"M-3.8,0H3.8","labelExpr":"datum.label == 'Target therapy' ? 'Target therapy  Median : 3.68 (mo)' : 'Immunotherapy Median : 5.38 (mo)'"}}}},
{"data":{"values":[{}]},"mark":{"type":"text","fontSize":10,"lineHeight":10.7,"color":"#1a1a1a","align":"center","baseline":"middle"},"encoding":{"x":{"datum":7.72},"y":{"datum":0.995},"text":{"value":["Progression Free Survival","Poor risk of Metachronous"]}}},
{"data":{"values":[{}]},"mark":{"type":"text","fontSize":9,"color":"#333333","align":"center","baseline":"middle"},"encoding":{"x":{"datum":9.66},"y":{"datum":0.794},"text":{"value":"Log-rank P  = 0.863"}}}
]},
{"width":253,"height":234,
"title":{"text":"H","anchor":"start","frame":"group","orient":"top","offset":0,"dx":-68.7,"dy":26,"baseline":"alphabetic","fontSize":25,"fontWeight":"bold","color":"#000000","font":"Liberation Sans"},
"layer":[
{"data":{"name":"km"},"transform":[{"filter":"datum.panel == 'H'"}],"mark":{"type":"line","interpolate":"step-after","strokeWidth":1.3},
"encoding":{"x":{"field":"t","type":"quantitative","scale":{"domain":[-0.76,16.76],"nice":false,"zero":false},"axis":{"values":[0,5,10,15],"title":"Time (month)","titlePadding":2}},
"y":{"field":"s","type":"quantitative","scale":{"domain":[-0.047,1.05],"nice":false,"zero":false},"axis":{"values":[0,0.25,0.5,0.75,1],"format":".2f","title":"Survival probability","titlePadding":44.3}},
"color":{"field":"group","type":"nominal","scale":{"domain":["Target therapy","Immunotherapy"],"range":["#FF0000","#0000FF"]},"legend":{"legendX":43.3,"legendY":188.65,"clipHeight":10.7,"labelOffset":3.7,"symbolType":"M-3.2,0H3.2","labelExpr":"datum.label == 'Target therapy' ? 'Target therapy  Median : 7.56 (mo)' : 'Immunotherapy Median : 13.79 (mo)'"}}}},
{"data":{"name":"cens"},"transform":[{"filter":"datum.panel == 'H'"}],"mark":{"type":"point","shape":"M-1,0H1M0,-1V1","size":45,"filled":false,"strokeWidth":1.2,"opacity":1},"encoding":{"x":{"field":"t","type":"quantitative"},"y":{"field":"s","type":"quantitative"},"color":{"field":"group","type":"nominal"}}},
{"data":{"values":[{}]},"mark":{"type":"text","fontSize":10,"color":"#1a1a1a","align":"center","baseline":"middle"},"encoding":{"x":{"datum":8.03},"y":{"datum":0.198},"text":{"value":"Cancer Specific Survival Poor risk of Metachronous"}}},
{"data":{"values":[{}]},"mark":{"type":"text","fontSize":9,"color":"#333333","align":"center","baseline":"middle"},"encoding":{"x":{"datum":9.99},"y":{"datum":0.028},"text":{"value":"Log-rank P  = 0.352"}}}
]},
{"width":253,"height":18,"data":{"name":"risk"},"transform":[{"filter":"datum.panel == 'G'"}],
"title":{"text":"Number at risk","anchor":"start","frame":"group","offset":0,"dy":2.2,"baseline":"middle","fontSize":12.7,"fontWeight":"normal","color":"#111111","font":"Liberation Sans"},
"mark":{"type":"text","fontSize":10,"color":"#333333","baseline":"middle"},
"encoding":{"x":{"field":"t","type":"quantitative","scale":{"domain":[-0.61,12.63],"nice":false,"zero":false},"axis":{"values":[0,3,6,9,12],"title":"Time (month)","titlePadding":3,"tickSize":1,"labelPadding":0}},
"y":{"field":"group","type":"nominal","scale":{"domain":["Target therapy","Immunotherapy"]},"axis":{"title":null,"labelFontSize":9.3,"tickSize":2,"labelPadding":3.5,"labelColor":{"condition":{"test":"datum.value == 'Target therapy'","value":"#FF0000"},"value":"#0000FF"}}},
"text":{"field":"n","type":"quantitative"}}},
{"width":253,"height":18,"data":{"name":"risk"},"transform":[{"filter":"datum.panel == 'H'"}],
"title":{"text":"Number at risk","anchor":"start","frame":"group","offset":0,"dy":2.2,"baseline":"middle","fontSize":12.7,"fontWeight":"normal","color":"#111111","font":"Liberation Sans"},
"mark":{"type":"text","fontSize":10,"color":"#333333","baseline":"middle"},
"encoding":{"x":{"field":"t","type":"quantitative","scale":{"domain":[-0.76,16.76],"nice":false,"zero":false},"axis":{"values":[0,5,10,15],"title":"Time (month)","titlePadding":3,"tickSize":1,"labelPadding":0}},
"y":{"field":"group","type":"nominal","scale":{"domain":["Target therapy","Immunotherapy"]},"axis":{"title":null,"labelFontSize":9.3,"tickSize":2,"labelPadding":3.5,"labelColor":{"condition":{"test":"datum.value == 'Target therapy'","value":"#FF0000"},"value":"#0000FF"}}},
"text":{"field":"n","type":"quantitative"}}}
]
}
